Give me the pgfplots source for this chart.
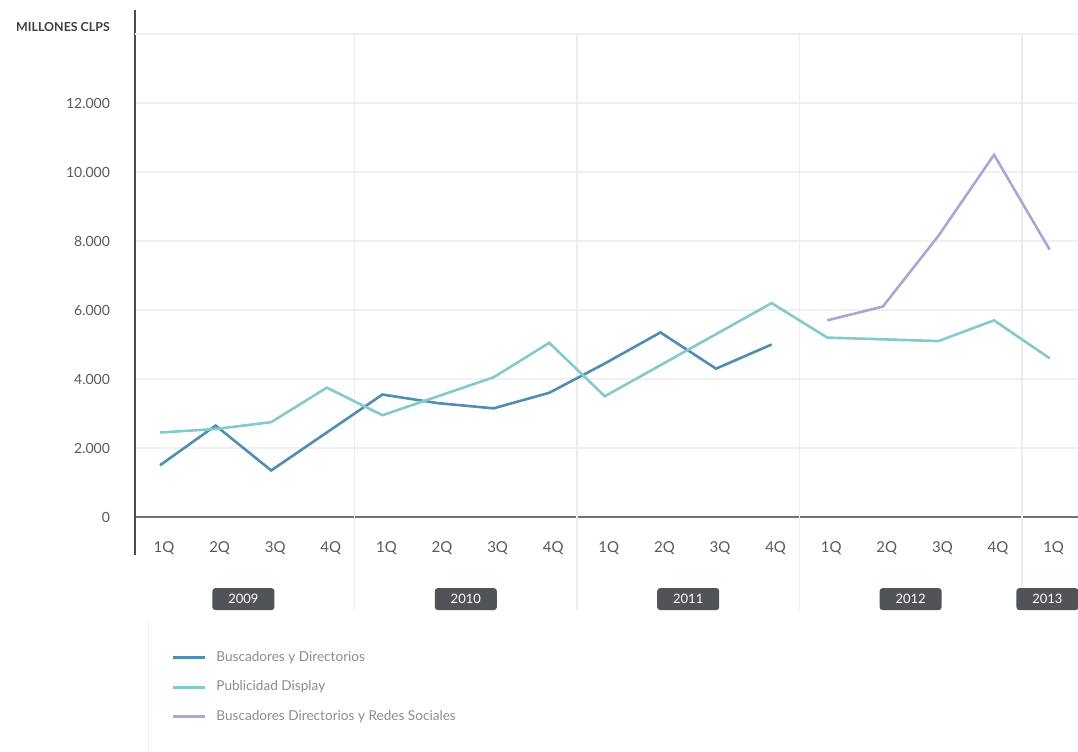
\documentclass[border=0pt]{standalone}
\usepackage{pgfplots}
\pgfplotsset{compat=1.18}
\usepackage{fontspec}
\setmainfont{Lato}
\definecolor{cdark}{HTML}{4F8DB3}
\definecolor{cteal}{HTML}{84CACA}
\definecolor{cpurp}{HTML}{A8A8D4}
\definecolor{ybox}{HTML}{505458}
\begin{document}
\begin{tikzpicture}
\useasboundingbox (-67.5pt,-117pt) rectangle (471.5pt,258.5pt);
\begin{axis}[
  scale only axis, width=471.5pt, height=253.5pt,
  xmin=-0.45, xmax=16.51, ymin=0, ymax=14696,
  axis x line=bottom, axis y line=left,
  x axis line style={-, draw=black!55, line width=0.8pt},
  y axis line style={-, draw=black!70, line width=1pt},
  xtick={0,...,16},
  xticklabels={1Q,2Q,3Q,4Q,1Q,2Q,3Q,4Q,1Q,2Q,3Q,4Q,1Q,2Q,3Q,4Q,1Q},
  major tick length=0pt,
  xticklabel style={anchor=center, xshift=2pt, yshift=-15.5pt, font=\fontsize{7.5}{9}\selectfont, text=black!65},
  ytick={0,2000,...,12000},
  yticklabels={0,2.000,4.000,6.000,8.000,10.000,12.000},
  yticklabel style={anchor=east, xshift=-9pt, font=\fontsize{7}{9}\selectfont, text=black!65},
  ymajorgrids, grid style={black!6, line width=0.6pt},
  clip=false,
  legend style={at={(axis cs:0.09,-3650)}, anchor=north west, draw=none, fill=none,
    font=\fontsize{6.8}{8}\selectfont, text=black!45, row sep=4.2pt,
    /tikz/every odd column/.append style={column sep=3pt}},
  legend cell align=left,
  legend image code/.code={\draw[#1, line width=1.5pt] (0pt,0pt) -- (16pt,0pt);},
  every axis plot/.append style={line width=1.3pt},
]
% top gridline
\draw[black!6, line width=0.6pt] (axis cs:-0.45,14000) -- (axis cs:16.51,14000);
% year separators
\draw[black!7, line width=0.8pt] (axis cs:3.5,14000) -- (axis cs:3.5,-2700);
\draw[black!7, line width=0.8pt] (axis cs:7.5,14000) -- (axis cs:7.5,-2700);
\draw[black!7, line width=0.8pt] (axis cs:11.5,14000) -- (axis cs:11.5,-2700);
\draw[black!7, line width=0.8pt] (axis cs:15.5,14000) -- (axis cs:15.5,-2700);
% y axis extension
\draw[black!70, line width=1pt] (axis cs:-0.45,0) -- (axis cs:-0.45,-1100);
\draw[black!6, line width=0.6pt] (axis cs:-0.2,-3000) -- (axis cs:-0.2,-6783);

\addplot[cdark] coordinates {
(0,1500) (1,2650) (2,1350) (3,2450) (4,3550) (5,3300) (6,3150) (7,3600)
(8,4450) (9,5350) (10,4300) (11,5000)};
\addlegendentry{Buscadores y Directorios}
\addplot[cteal] coordinates {
(0,2450) (1,2550) (2,2750) (3,3750) (4,2950) (5,3500) (6,4050) (7,5050)
(8,3500) (9,4400) (10,5300) (11,6200) (12,5200) (13,5150) (14,5100) (15,5700) (16,4600)};
\addlegendentry{Publicidad Display}
\addplot[cpurp] coordinates {
(12,5700) (13,6100) (14,8150) (15,10500) (16,7750)};
\addlegendentry{Buscadores Directorios y Redes Sociales}

\foreach \x/\yr in {1.5/2009,5.5/2010,9.5/2011,13.5/2012,15.96/2013}{
  \edef\tmp{\noexpand\node[fill=ybox, text=white, rounded corners=1.5pt, minimum width=31pt,
    minimum height=11pt, inner sep=0pt, font=\noexpand\fontsize{6.5}{7}\noexpand\selectfont]
    at (axis cs:\x,-2380) {\yr};}\tmp
}
\end{axis}
\node[font=\bfseries\fontsize{6.2}{7}\selectfont, text=black!75, inner sep=0pt] at (-36pt,245pt) {MILLONES CLPS};
\end{tikzpicture}
\end{document}
